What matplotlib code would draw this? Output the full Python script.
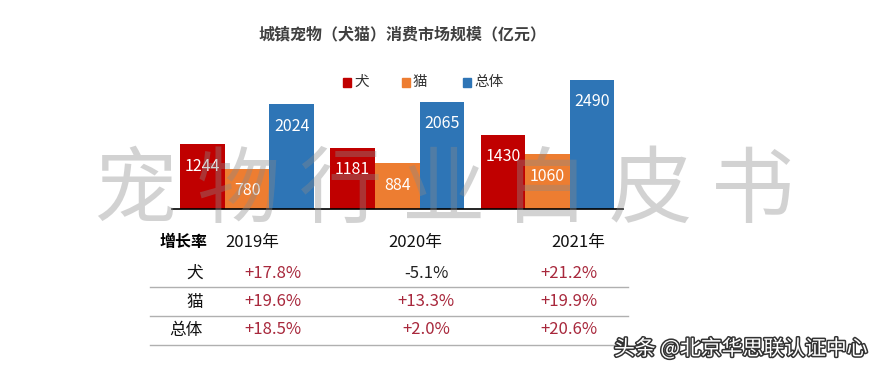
import numpy as np
import matplotlib as mpl
mpl.use('Agg')
import matplotlib.pyplot as plt
import matplotlib.patheffects as pe

plt.rcParams['font.family'] = ['Noto Sans CJK SC', 'DejaVu Sans']

years = ["2019年", "2020年", "2021年"]
series = ["犬", "猫", "总体"]
dog = [1244, 1181, 1430]
cat = [780, 884, 1060]
total = [2024, 2065, 2490]
growth_dog = ["+17.8%", "-5.1%", "+21.2%"]
growth_cat = ["+19.6%", "+13.3%", "+19.9%"]
growth_total = ["+18.5%", "+2.0%", "+20.6%"]
colors = ["#C00000", "#ED7D31", "#2E75B6"]

W, H = 892, 374
fig = plt.figure(figsize=(W / 100, H / 100), dpi=100)
fig.patch.set_facecolor("white")

# bar axes, placed in pixels
left, right, base = 172, 622.5, 209
ax = fig.add_axes([left / W, (H - base) / H, (right - left) / W, 140 / H])
ax.set_xlim(-0.5, 2.5)
ax.set_ylim(0, 2700)
x = np.arange(len(years))
w = 0.297
for i, (vals, c) in enumerate(zip([dog, cat, total], colors)):
    pos = x + (i - 1) * w
    ax.bar(pos, vals, width=w, color=c, zorder=2)
    for p, v in zip(pos, vals):
        ax.annotate(str(v), (p, v), xytext=(0, -22), textcoords="offset pixels",
                    ha="center", va="center", color="white", fontsize=11.5, zorder=3)
for s in ["top", "left", "right"]:
    ax.spines[s].set_visible(False)
ax.spines["bottom"].set_color("black")
ax.spines["bottom"].set_linewidth(1.2)
ax.set_xticks([])
ax.set_yticks([])
ax.patch.set_alpha(0)

# overlay in pixel coords for text/table
ov = fig.add_axes([0, 0, 1, 1], zorder=5)
ov.set_xlim(0, W)
ov.set_ylim(H, 0)
ov.axis("off")

ov.text(403, 34, "城镇宠物（犬猫）消费市场规模（亿元）", ha="center", va="center",
        fontsize=11.5, color="#404040", fontweight="bold")

# legend
for lx, name, c in zip([343, 402, 463], series, colors):
    ov.add_patch(plt.Rectangle((lx, 78), 8, 9, color=c))
    ov.text(lx + 11, 82, name, ha="left", va="center", fontsize=10.5, color="#333333")

# big watermark
for k, ch in enumerate("宠物行业白皮书"):
    ov.text(135 + k * 103, 192, ch, ha="center", va="center", fontsize=60,
            color="#8a8a8a", alpha=0.38, fontweight="light", zorder=1)

# growth table
ov.text(184, 242, "增长率", ha="center", va="center", fontsize=11.5, fontweight="bold", color="black")
for hx, y in zip([252, 415, 578], years):
    ov.text(hx, 242, y, ha="center", va="center", fontsize=12, color="#111111")
rows_y = [273, 302, 330]
val_x = [273, 426, 569]
for ry, name, vals in zip(rows_y, series, [growth_dog, growth_cat, growth_total]):
    ov.text(203, ry, name, ha="right", va="center", fontsize=12, color="#111111")
    for vx, v in zip(val_x, vals):
        col = "#222222" if v.startswith("-") else "#A8283C"
        ov.text(vx, ry, v, ha="center", va="center", fontsize=12, color=col)
for ly in [287, 316, 345]:
    ov.plot([150, 628], [ly, ly], color="#B0B0B0", lw=1)

ov.text(741, 349, "头条 @北京华思联认证中心", ha="center", va="center", fontsize=15,
        color="white", path_effects=[pe.withStroke(linewidth=2.2, foreground="#333333")])

fig.savefig("out.png", dpi=100)
